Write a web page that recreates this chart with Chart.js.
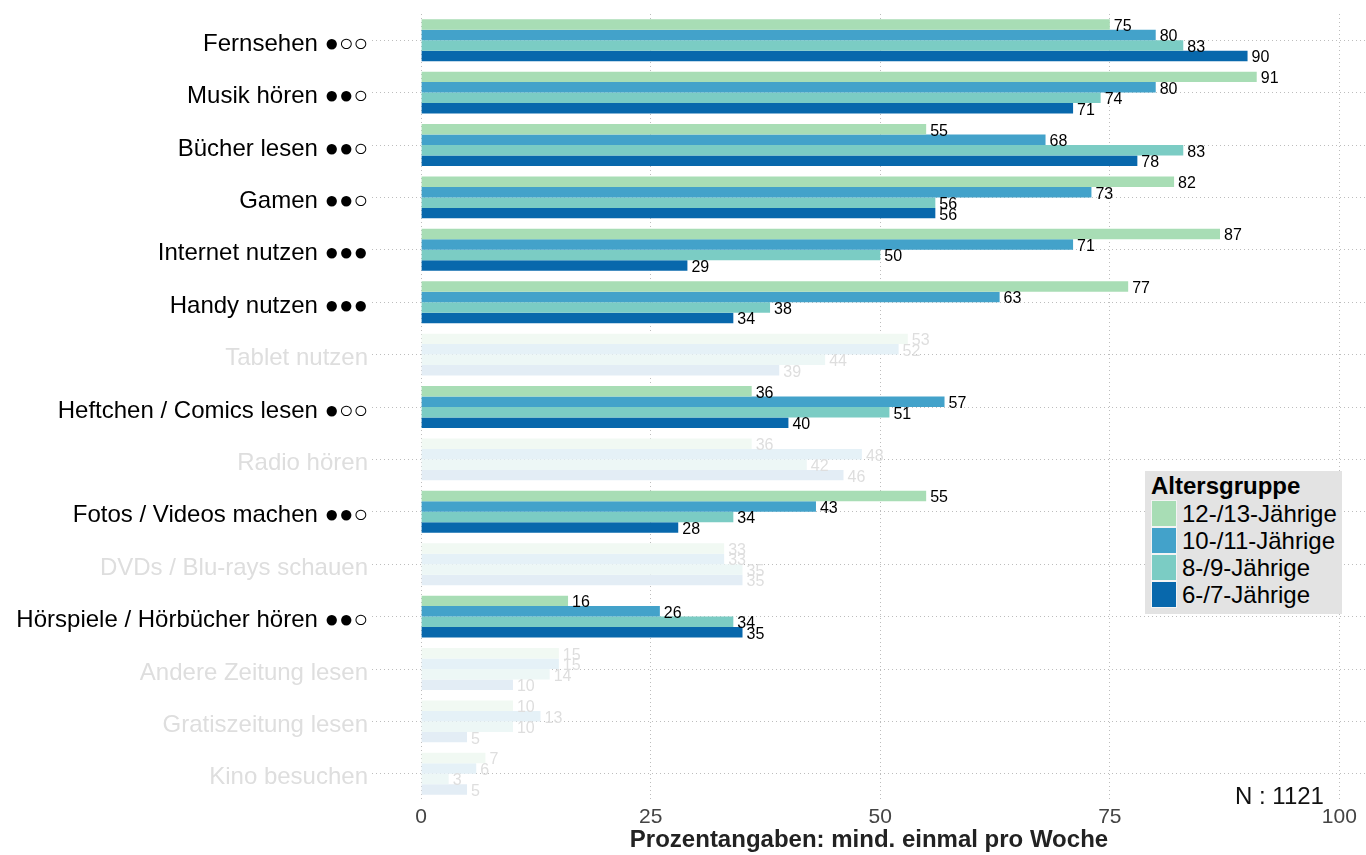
<!DOCTYPE html>
<html>
<head>
<meta charset="utf-8">
<script src="https://cdn.jsdelivr.net/npm/chart.js@4"></script>
<style>
    html, body { margin: 0; padding: 0; background: #fff; }
    #wrap { position: relative; width: 1366px; height: 855px; }
    #legend {
        position: absolute; left: 1145px; top: 471px; width: 197px; height: 143px;
        background: #e3e3e3; font-family: "Liberation Sans", Arial, sans-serif; box-sizing: border-box;
        padding: 1px 0 0 6px; color: #000;
    }
    #legend .title { font-weight: bold; font-size: 24px; line-height: 28px; }
    #legend .item { display: flex; align-items: center; height: 27px; font-size: 24px; }
    #legend .box { width: 26px; height: 27px; margin-right: 5px; border: 1px solid #f4f4f4; box-sizing: border-box; }
    #ntext { position: absolute; left: 1235px; top: 782px; font-family: "Liberation Sans", Arial, sans-serif; font-size: 24px; color: #111; }
</style>
</head>
<body>
<div id="wrap">
    <canvas id="chart" width="1366" height="855"></canvas>
    <div id="legend"></div>
    <div id="ntext">N : 1121</div>
</div>
<script>
const categories = [
    'Fernsehen ●○○', 'Musik hören ●●○', 'Bücher lesen ●●○', 'Gamen ●●○', 'Internet nutzen ●●●',
    'Handy nutzen ●●●', 'Tablet nutzen', 'Heftchen / Comics lesen ●○○', 'Radio hören',
    'Fotos / Videos machen ●●○', 'DVDs / Blu-rays schauen', 'Hörspiele / Hörbücher hören ●●○',
    'Andere Zeitung lesen', 'Gratiszeitung lesen', 'Kino besuchen'
];
// true = category shown greyed out
const faded = [false, false, false, false, false, false, true, false, true, false, true, false, true, true, true];

const seriesNames = ['12-/13-Jährige', '10-/11-Jährige', '8-/9-Jährige', '6-/7-Jährige'];
const seriesColors = ['#a8ddb5', '#43a2ca', '#7bccc4', '#0868ac'];
const seriesFaded = ['#f1f9f3', '#e5f1f7', '#edf7f6', '#e3edf5'];

const age12_13 = [75, 91, 55, 82, 87, 77, 53, 36, 36, 55, 33, 16, 15, 10, 7];
const age10_11 = [80, 80, 68, 73, 71, 63, 52, 57, 48, 43, 33, 26, 15, 13, 6];
const age8_9   = [83, 74, 83, 56, 50, 38, 44, 51, 42, 34, 35, 34, 14, 10, 3];
const age6_7   = [90, 71, 78, 56, 29, 34, 39, 40, 46, 28, 35, 35, 10, 5, 5];
const seriesValues = [age12_13, age10_11, age8_9, age6_7];

const xTicks = [0, 25, 50, 75, 100];
const fadedText = '#dedede';

// legend
const legendEl = document.getElementById('legend');
legendEl.innerHTML = '<div class="title">Altersgruppe</div>' + seriesNames.map((n, i) =>
    `<div class="item"><div class="box" style="background:${seriesColors[i]}"></div>${n}</div>`).join('');

// value labels at bar ends
const valueLabels = {
    id: 'valueLabels',
    afterDatasetsDraw(chart) {
        const ctx = chart.ctx;
        ctx.save();
        ctx.font = '16px "Liberation Sans", Arial, sans-serif';
        ctx.textBaseline = 'middle';
        ctx.textAlign = 'left';
        chart.data.datasets.forEach((ds, di) => {
            chart.getDatasetMeta(di).data.forEach((bar, i) => {
                ctx.fillStyle = faded[i] ? fadedText : '#000';
                ctx.fillText(ds.data[i], bar.x + 4, bar.y + 2);
            });
        });
        ctx.restore();
    }
};

new Chart(document.getElementById('chart'), {
    type: 'bar',
    data: {
        labels: categories,
        datasets: seriesNames.map((name, si) => ({
            label: name,
            data: seriesValues[si],
            backgroundColor: faded.map(f => f ? seriesFaded[si] : seriesColors[si]),
            borderWidth: 0,
            categoryPercentage: 0.8,
            barPercentage: 1.0
        }))
    },
    options: {
        indexAxis: 'y',
        responsive: false,
        animation: false,
        layout: { padding: { top: 14, right: 0, left: 0, bottom: 0 } },
        plugins: {
            legend: { display: false },
            tooltip: { enabled: false }
        },
        scales: {
            x: {
                min: -5.35,
                max: 102.9,
                afterBuildTicks: (scale) => { scale.ticks = xTicks.map(v => ({ value: v })); },
                afterFit: (scale) => { scale.height = 55; },
                border: { display: false, dash: [1, 3] },
                grid: { color: '#bdbdbd', tickLength: 0, drawTicks: false },
                ticks: {
                    color: '#444',
                    padding: 5,
                    maxRotation: 0,
                    font: { family: '"Liberation Sans", Arial, sans-serif', size: 21 }
                },
                title: {
                    display: true,
                    text: 'Prozentangaben: mind. einmal pro Woche',
                    color: '#222',
                    padding: { top: 2, bottom: 0 },
                    font: { family: '"Liberation Sans", Arial, sans-serif', size: 24, weight: 'bold' }
                }
            },
            y: {
                afterFit: (scale) => {
                    scale.width = 372;
                    scale.paddingTop = 0;
                    scale.paddingBottom = 0;
                },
                border: { display: false, dash: [1, 3] },
                grid: { color: '#bdbdbd', offset: false, drawTicks: false },
                ticks: {
                    padding: 4,
                    labelOffset: 4,
                    color: (c) => faded[c.index] ? fadedText : '#000',
                    font: { family: '"Liberation Sans", Arial, sans-serif', size: 24 }
                }
            }
        }
    },
    plugins: [valueLabels]
});
</script>
</body>
</html>
